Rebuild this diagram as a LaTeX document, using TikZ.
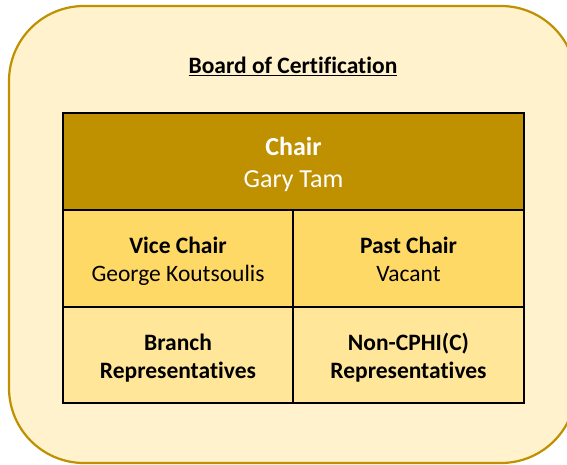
\documentclass[tikz,border=0pt]{standalone}
\usepackage{fontspec}
\setmainfont{Carlito}[Ligatures = NoCommon]
\definecolor{Frame}{RGB}{191, 144, 0}
\definecolor{Cream}{RGB}{255, 242, 204}
\definecolor{Gold}{RGB}{191, 144, 0}
\definecolor{Amber}{RGB}{255, 217, 102}
\definecolor{Sand}{RGB}{255, 230, 153}
\tikzset{
    cell/.style = {draw = black, line width = 1.8pt},
    celltext/.style = {align = center, font = \fontsize{23.5}{28}\selectfont}
}

\begin{document}
\begin{tikzpicture}[x=1pt, y=-1pt]
    \useasboundingbox (0,0) rectangle (567,465);
    \clip (0,0) rectangle (567,465);
    % Frame
    \draw[line width = 2.2pt, draw = Frame, fill = Cream, rounded corners = 75pt]
    (9,6) rectangle (576,463)
    ;
    \node[font = \fontsize{23.5}{28}\selectfont\bfseries] (title) at (293,66) {\underline{Board of Certification}};
    % Chair
    \draw[cell, fill = Gold] (63,113) rectangle (524,210);
    % Vice chair, past chair
    \draw[cell, fill = Amber]
    (63,210) rectangle (293,307)
    (293,210) rectangle (524,307)
    ;
    % Representatives
    \draw[cell, fill = Sand]
    (63,307) rectangle (293,403)
    (293,307) rectangle (524,403)
    ;
    \node[celltext, text = white, font = \fontsize{26}{32}\selectfont] (chair) at (293.5,165) {\strut\textbf{Chair}\\\strut Gary Tam};
    \node[celltext] (vice) at (178,261.5) {\strut\textbf{Vice Chair}\\\strut George Koutsoulis};
    \node[celltext] (past) at (408.5,261.5) {\strut\textbf{Past Chair}\\\strut Vacant};
    \node[celltext] (branch) at (178,359) {\strut\textbf{Branch}\\\strut\textbf{Representatives}};
    \node[celltext] (noncphi) at (408.5,359) {\strut\textbf{Non-CPHI(C)}\\\strut\textbf{Representatives}};
\end{tikzpicture}
\end{document}
